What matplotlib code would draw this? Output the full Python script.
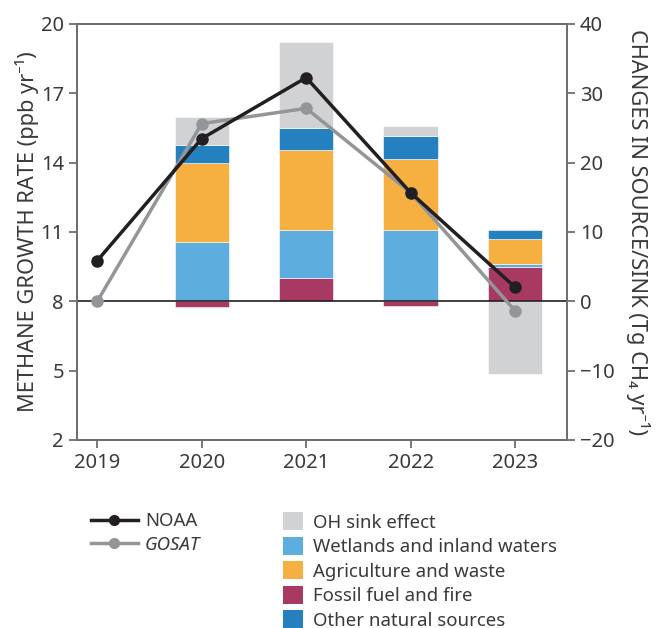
import numpy as np
import matplotlib
matplotlib.use("Agg")
import matplotlib.pyplot as plt
from matplotlib.patches import Patch
from matplotlib.lines import Line2D

plt.rcParams['font.family'] = ['Noto Sans', 'DejaVu Sans']

# growth rate (ppb/yr), left axis
years = np.array([2019, 2020, 2021, 2022, 2023])
noaa = np.array([9.76, 15.04, 17.68, 12.70, 8.61])
gosat = np.array([8.0, 15.69, 16.35, 12.70, 7.59])

# source/sink changes (Tg CH4/yr), right axis
bar_years = np.array([2020, 2021, 2022, 2023])
fossil = np.array([-0.8, 3.4, -0.7, 5.0])
wetlands = np.array([8.5, 6.9, 10.3, 0.4])
agriculture = np.array([11.5, 11.5, 10.2, 3.6])
other_natural = np.array([2.6, 3.2, 3.4, 1.3])
oh_sink = np.array([4.0, 12.4, 1.4, -10.5])

c_oh = '#d1d2d4'
c_wet = '#5eaddf'
c_agri = '#f6b042'
c_fossil = '#a73963'
c_other = '#2580bf'
c_noaa = '#231f20'
c_gosat = '#939598'
spine_c = '#6d6e71'
txt_c = '#3a3a3a'
tick_fs = 14.5
leg_fs = 13.4
lab_fs = 15.7

fig = plt.figure(figsize=(6.56, 6.28), dpi=100)
ax = fig.add_axes([0.1174, 0.2994, 0.7466, 0.6624])
ax2 = ax.twinx()

# stacked bars: positives go up from 0, negatives go down from 0
w = 0.52
pos_base = np.zeros(len(bar_years))
neg_base = np.zeros(len(bar_years))
for vals, col in [(fossil, c_fossil), (wetlands, c_wet), (agriculture, c_agri),
                  (other_natural, c_other), (oh_sink, c_oh)]:
    base = np.where(vals >= 0, pos_base, neg_base)
    ax2.bar(bar_years, vals, w, bottom=base, color=col, edgecolor='white', linewidth=0.4)
    pos_base = pos_base + np.where(vals >= 0, vals, 0)
    neg_base = neg_base + np.where(vals < 0, vals, 0)

ax2.set_ylim(-20, 40)
ax2.set_yticks([-20, -10, 0, 10, 20, 30, 40])
ax2.set_yticklabels(['\u221220', '\u221210', '0', '10', '20', '30', '40'])

# lines on top of bars
ax.set_zorder(ax2.get_zorder() + 1)
ax.patch.set_visible(False)
ax.axhline(8, color='#231f20', lw=1.2, zorder=1)
ax.plot(years, gosat, color=c_gosat, lw=2.5, marker='o', ms=8, zorder=3)
ax.plot(years, noaa, color=c_noaa, lw=2.5, marker='o', ms=8, zorder=4)

ax.set_ylim(2, 20)
ax.set_yticks([2, 5, 8, 11, 14, 17, 20])
ax.set_xlim(2018.806, 2023.495)
ax.set_xticks(years)

for a in (ax, ax2):
    for s in a.spines.values():
        s.set_color(spine_c)
        s.set_linewidth(1.3)
    a.tick_params(colors=spine_c, labelcolor=txt_c, labelsize=tick_fs, width=1.3, length=6)

ax.set_ylabel('METHANE GROWTH RATE (ppb yr\u207b\u00b9)', fontsize=lab_fs, color=txt_c)
ax.yaxis.label.set_va('center')
ax.yaxis.set_label_coords(-0.102, 0.5)
ax2.set_ylabel('CHANGES IN SOURCE/SINK (Tg CH\u2084 yr\u207b\u00b9)', fontsize=lab_fs,
               color=txt_c, rotation=270)
ax2.yaxis.label.set_va('center')
ax2.yaxis.set_label_coords(1.146, 0.5)

# legends
line_handles = [Line2D([], [], color=c_noaa, lw=2.5, marker='o', ms=7),
                Line2D([], [], color=c_gosat, lw=2.5, marker='o', ms=7)]
leg1 = fig.legend(line_handles, ['NOAA', 'GOSAT'], loc='upper left',
                  bbox_to_anchor=(0.139, 0.184), frameon=False, fontsize=leg_fs,
                  handlelength=2.5, handletextpad=0.4, labelspacing=0.28,
                  borderpad=0, borderaxespad=0)
for t in leg1.get_texts():
    t.set_color(txt_c)
leg1.get_texts()[1].set_style('italic')

patch_labels = ['OH sink effect', 'Wetlands and inland waters', 'Agriculture and waste',
                'Fossil fuel and fire', 'Other natural sources']
patch_cols = [c_oh, c_wet, c_agri, c_fossil, c_other]
patch_handles = [Patch(facecolor=c, edgecolor='none') for c in patch_cols]
leg2 = fig.legend(patch_handles, patch_labels, loc='upper left',
                  bbox_to_anchor=(0.431, 0.184), frameon=False, fontsize=leg_fs,
                  handlelength=1.1, handleheight=1.1, handletextpad=0.5,
                  labelspacing=0.28, borderpad=0, borderaxespad=0)
for t in leg2.get_texts():
    t.set_color(txt_c)

fig.savefig('out.png', dpi=100)
